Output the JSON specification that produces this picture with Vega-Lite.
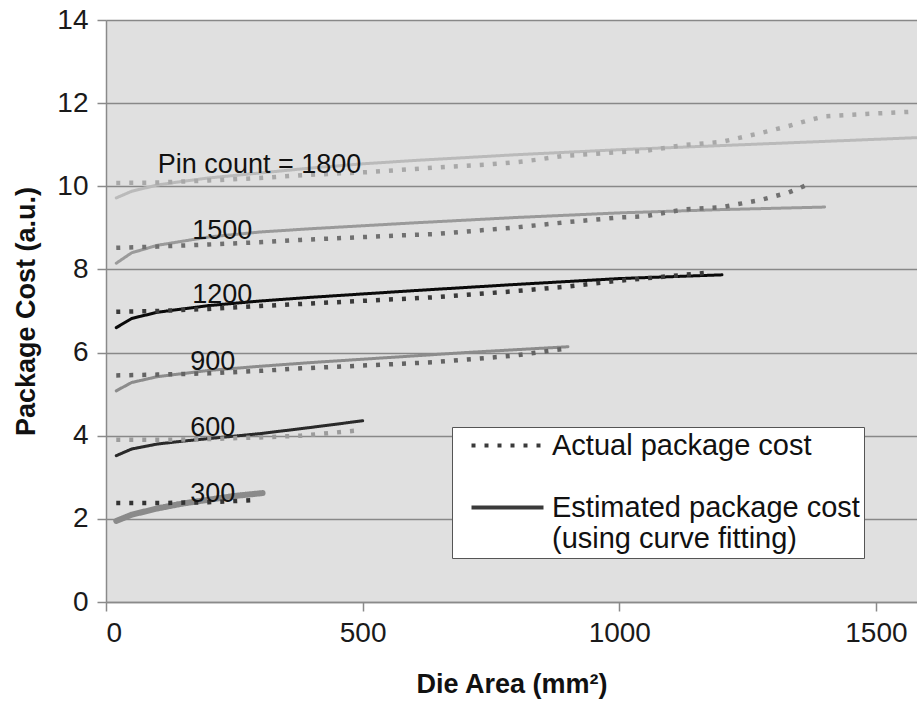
{
  "$schema": "https://vega.github.io/schema/vega-lite/v6.json",
  "width": 811,
  "height": 582,
  "autosize": "none",
  "padding": {"left": 106, "top": 20, "right": 0, "bottom": 100},
  "background": "white",
  "config": {
    "font": "Liberation Sans",
    "view": {"fill": "#e0e0e0", "stroke": null},
    "axis": {
      "labelFont": "Liberation Sans",
      "titleFont": "Liberation Sans",
      "labelColor": "#1a1a1a",
      "titleColor": "#111111",
      "domainColor": "#8a8a8a",
      "domainWidth": 1.5,
      "tickColor": "#8a8a8a",
      "tickWidth": 1.5,
      "tickSize": 9,
      "labelFontSize": 28,
      "titleFontSize": 27,
      "titleFontWeight": "bold"
    },
    "legend": {
      "labelFont": "Liberation Sans"
    }
  },
  "data": {
    "values": [
      {"series": "A1800", "kind": "Actual package cost", "area": 20, "cost": 10.08},
      {"series": "A1800", "kind": "Actual package cost", "area": 100, "cost": 10.09},
      {"series": "A1800", "kind": "Actual package cost", "area": 200, "cost": 10.14},
      {"series": "A1800", "kind": "Actual package cost", "area": 300, "cost": 10.2},
      {"series": "A1800", "kind": "Actual package cost", "area": 385, "cost": 10.27},
      {"series": "A1800", "kind": "Actual package cost", "area": 510, "cost": 10.34},
      {"series": "A1800", "kind": "Actual package cost", "area": 640, "cost": 10.45},
      {"series": "A1800", "kind": "Actual package cost", "area": 740, "cost": 10.52},
      {"series": "A1800", "kind": "Actual package cost", "area": 800, "cost": 10.58},
      {"series": "A1800", "kind": "Actual package cost", "area": 840, "cost": 10.64},
      {"series": "A1800", "kind": "Actual package cost", "area": 890, "cost": 10.73},
      {"series": "A1800", "kind": "Actual package cost", "area": 1000, "cost": 10.82},
      {"series": "A1800", "kind": "Actual package cost", "area": 1050, "cost": 10.85},
      {"series": "A1800", "kind": "Actual package cost", "area": 1125, "cost": 10.99},
      {"series": "A1800", "kind": "Actual package cost", "area": 1200, "cost": 11.07},
      {"series": "A1800", "kind": "Actual package cost", "area": 1275, "cost": 11.28},
      {"series": "A1800", "kind": "Actual package cost", "area": 1330, "cost": 11.45},
      {"series": "A1800", "kind": "Actual package cost", "area": 1372, "cost": 11.6},
      {"series": "A1800", "kind": "Actual package cost", "area": 1400, "cost": 11.68},
      {"series": "A1800", "kind": "Actual package cost", "area": 1480, "cost": 11.74},
      {"series": "A1800", "kind": "Actual package cost", "area": 1580, "cost": 11.8},

      {"series": "E1800", "kind": "Estimated package cost", "area": 20, "cost": 9.72},
      {"series": "E1800", "kind": "Estimated package cost", "area": 50, "cost": 9.88},
      {"series": "E1800", "kind": "Estimated package cost", "area": 100, "cost": 10.03},
      {"series": "E1800", "kind": "Estimated package cost", "area": 150, "cost": 10.12},
      {"series": "E1800", "kind": "Estimated package cost", "area": 200, "cost": 10.2},
      {"series": "E1800", "kind": "Estimated package cost", "area": 300, "cost": 10.32},
      {"series": "E1800", "kind": "Estimated package cost", "area": 400, "cost": 10.44},
      {"series": "E1800", "kind": "Estimated package cost", "area": 500, "cost": 10.54},
      {"series": "E1800", "kind": "Estimated package cost", "area": 600, "cost": 10.62},
      {"series": "E1800", "kind": "Estimated package cost", "area": 800, "cost": 10.76},
      {"series": "E1800", "kind": "Estimated package cost", "area": 1000, "cost": 10.88},
      {"series": "E1800", "kind": "Estimated package cost", "area": 1200, "cost": 10.98},
      {"series": "E1800", "kind": "Estimated package cost", "area": 1400, "cost": 11.08},
      {"series": "E1800", "kind": "Estimated package cost", "area": 1580, "cost": 11.17},

      {"series": "A1500", "kind": "Actual package cost", "area": 20, "cost": 8.52},
      {"series": "A1500", "kind": "Actual package cost", "area": 100, "cost": 8.55},
      {"series": "A1500", "kind": "Actual package cost", "area": 200, "cost": 8.6},
      {"series": "A1500", "kind": "Actual package cost", "area": 310, "cost": 8.66},
      {"series": "A1500", "kind": "Actual package cost", "area": 380, "cost": 8.71},
      {"series": "A1500", "kind": "Actual package cost", "area": 575, "cost": 8.82},
      {"series": "A1500", "kind": "Actual package cost", "area": 640, "cost": 8.85},
      {"series": "A1500", "kind": "Actual package cost", "area": 790, "cost": 9.0},
      {"series": "A1500", "kind": "Actual package cost", "area": 900, "cost": 9.14},
      {"series": "A1500", "kind": "Actual package cost", "area": 1000, "cost": 9.25},
      {"series": "A1500", "kind": "Actual package cost", "area": 1050, "cost": 9.28},
      {"series": "A1500", "kind": "Actual package cost", "area": 1125, "cost": 9.44},
      {"series": "A1500", "kind": "Actual package cost", "area": 1200, "cost": 9.5},
      {"series": "A1500", "kind": "Actual package cost", "area": 1275, "cost": 9.67},
      {"series": "A1500", "kind": "Actual package cost", "area": 1330, "cost": 9.85},
      {"series": "A1500", "kind": "Actual package cost", "area": 1375, "cost": 10.08},

      {"series": "E1500", "kind": "Estimated package cost", "area": 20, "cost": 8.15},
      {"series": "E1500", "kind": "Estimated package cost", "area": 50, "cost": 8.4},
      {"series": "E1500", "kind": "Estimated package cost", "area": 100, "cost": 8.58},
      {"series": "E1500", "kind": "Estimated package cost", "area": 200, "cost": 8.78},
      {"series": "E1500", "kind": "Estimated package cost", "area": 300, "cost": 8.9},
      {"series": "E1500", "kind": "Estimated package cost", "area": 400, "cost": 8.98},
      {"series": "E1500", "kind": "Estimated package cost", "area": 500, "cost": 9.05},
      {"series": "E1500", "kind": "Estimated package cost", "area": 600, "cost": 9.12},
      {"series": "E1500", "kind": "Estimated package cost", "area": 800, "cost": 9.25},
      {"series": "E1500", "kind": "Estimated package cost", "area": 1000, "cost": 9.36},
      {"series": "E1500", "kind": "Estimated package cost", "area": 1200, "cost": 9.44},
      {"series": "E1500", "kind": "Estimated package cost", "area": 1400, "cost": 9.5},

      {"series": "A1200", "kind": "Actual package cost", "area": 20, "cost": 6.98},
      {"series": "A1200", "kind": "Actual package cost", "area": 100, "cost": 7.0},
      {"series": "A1200", "kind": "Actual package cost", "area": 200, "cost": 7.05},
      {"series": "A1200", "kind": "Actual package cost", "area": 300, "cost": 7.12},
      {"series": "A1200", "kind": "Actual package cost", "area": 380, "cost": 7.17},
      {"series": "A1200", "kind": "Actual package cost", "area": 575, "cost": 7.29},
      {"series": "A1200", "kind": "Actual package cost", "area": 640, "cost": 7.33},
      {"series": "A1200", "kind": "Actual package cost", "area": 790, "cost": 7.47},
      {"series": "A1200", "kind": "Actual package cost", "area": 900, "cost": 7.59},
      {"series": "A1200", "kind": "Actual package cost", "area": 1000, "cost": 7.73},
      {"series": "A1200", "kind": "Actual package cost", "area": 1100, "cost": 7.84},
      {"series": "A1200", "kind": "Actual package cost", "area": 1180, "cost": 7.93},

      {"series": "E1200", "kind": "Estimated package cost", "area": 20, "cost": 6.6},
      {"series": "E1200", "kind": "Estimated package cost", "area": 50, "cost": 6.82},
      {"series": "E1200", "kind": "Estimated package cost", "area": 100, "cost": 6.97},
      {"series": "E1200", "kind": "Estimated package cost", "area": 200, "cost": 7.13},
      {"series": "E1200", "kind": "Estimated package cost", "area": 300, "cost": 7.24},
      {"series": "E1200", "kind": "Estimated package cost", "area": 400, "cost": 7.33},
      {"series": "E1200", "kind": "Estimated package cost", "area": 500, "cost": 7.41},
      {"series": "E1200", "kind": "Estimated package cost", "area": 600, "cost": 7.49},
      {"series": "E1200", "kind": "Estimated package cost", "area": 800, "cost": 7.64},
      {"series": "E1200", "kind": "Estimated package cost", "area": 1000, "cost": 7.78},
      {"series": "E1200", "kind": "Estimated package cost", "area": 1200, "cost": 7.87},

      {"series": "A900", "kind": "Actual package cost", "area": 20, "cost": 5.45},
      {"series": "A900", "kind": "Actual package cost", "area": 100, "cost": 5.47},
      {"series": "A900", "kind": "Actual package cost", "area": 200, "cost": 5.5},
      {"series": "A900", "kind": "Actual package cost", "area": 300, "cost": 5.56},
      {"series": "A900", "kind": "Actual package cost", "area": 380, "cost": 5.62},
      {"series": "A900", "kind": "Actual package cost", "area": 575, "cost": 5.73},
      {"series": "A900", "kind": "Actual package cost", "area": 640, "cost": 5.77},
      {"series": "A900", "kind": "Actual package cost", "area": 790, "cost": 5.92},
      {"series": "A900", "kind": "Actual package cost", "area": 900, "cost": 6.1},

      {"series": "E900", "kind": "Estimated package cost", "area": 20, "cost": 5.08},
      {"series": "E900", "kind": "Estimated package cost", "area": 50, "cost": 5.28},
      {"series": "E900", "kind": "Estimated package cost", "area": 100, "cost": 5.42},
      {"series": "E900", "kind": "Estimated package cost", "area": 200, "cost": 5.57},
      {"series": "E900", "kind": "Estimated package cost", "area": 300, "cost": 5.67},
      {"series": "E900", "kind": "Estimated package cost", "area": 400, "cost": 5.76},
      {"series": "E900", "kind": "Estimated package cost", "area": 500, "cost": 5.84},
      {"series": "E900", "kind": "Estimated package cost", "area": 600, "cost": 5.92},
      {"series": "E900", "kind": "Estimated package cost", "area": 700, "cost": 6.0},
      {"series": "E900", "kind": "Estimated package cost", "area": 800, "cost": 6.07},
      {"series": "E900", "kind": "Estimated package cost", "area": 900, "cost": 6.14},

      {"series": "A600", "kind": "Actual package cost", "area": 20, "cost": 3.9},
      {"series": "A600", "kind": "Actual package cost", "area": 100, "cost": 3.9},
      {"series": "A600", "kind": "Actual package cost", "area": 200, "cost": 3.92},
      {"series": "A600", "kind": "Actual package cost", "area": 300, "cost": 3.96},
      {"series": "A600", "kind": "Actual package cost", "area": 380, "cost": 4.0},
      {"series": "A600", "kind": "Actual package cost", "area": 485, "cost": 4.12},

      {"series": "E600", "kind": "Estimated package cost", "area": 20, "cost": 3.52},
      {"series": "E600", "kind": "Estimated package cost", "area": 50, "cost": 3.68},
      {"series": "E600", "kind": "Estimated package cost", "area": 100, "cost": 3.8},
      {"series": "E600", "kind": "Estimated package cost", "area": 150, "cost": 3.87},
      {"series": "E600", "kind": "Estimated package cost", "area": 200, "cost": 3.93},
      {"series": "E600", "kind": "Estimated package cost", "area": 300, "cost": 4.05},
      {"series": "E600", "kind": "Estimated package cost", "area": 400, "cost": 4.2},
      {"series": "E600", "kind": "Estimated package cost", "area": 500, "cost": 4.36},

      {"series": "A300", "kind": "Actual package cost", "area": 20, "cost": 2.38},
      {"series": "A300", "kind": "Actual package cost", "area": 100, "cost": 2.38},
      {"series": "A300", "kind": "Actual package cost", "area": 200, "cost": 2.4},
      {"series": "A300", "kind": "Actual package cost", "area": 290, "cost": 2.45},

      {"series": "E300", "kind": "Estimated package cost", "area": 20, "cost": 1.95},
      {"series": "E300", "kind": "Estimated package cost", "area": 50, "cost": 2.1},
      {"series": "E300", "kind": "Estimated package cost", "area": 100, "cost": 2.25},
      {"series": "E300", "kind": "Estimated package cost", "area": 150, "cost": 2.37},
      {"series": "E300", "kind": "Estimated package cost", "area": 200, "cost": 2.46},
      {"series": "E300", "kind": "Estimated package cost", "area": 250, "cost": 2.55},
      {"series": "E300", "kind": "Estimated package cost", "area": 305, "cost": 2.62}
    ]
  },
  "encoding": {
    "x": {
      "field": "area",
      "type": "quantitative",
      "scale": {"domain": [0, 1580], "nice": false},
      "axis": {
        "values": [0, 500, 1000, 1500],
        "format": "d",
        "grid": false,
        "labelPadding": 8,
        "title": "Die Area (mm²)",
        "titlePadding": 24
      }
    },
    "y": {
      "field": "cost",
      "type": "quantitative",
      "scale": {"domain": [0, 14], "nice": false},
      "axis": {
        "values": [0, 2, 4, 6, 8, 10, 12, 14],
        "grid": true,
        "gridColor": "#888888",
        "gridWidth": 1.5,
        "labelPadding": 9,
        "title": "Package Cost (a.u.)",
        "titlePadding": 16
      }
    }
  },
  "layer": [
    {
      "transform": [{"filter": "datum.kind == 'Estimated package cost' && datum.series != 'E300'"}],
      "mark": {"type": "line", "strokeWidth": 3, "strokeCap": "round", "clip": true},
      "encoding": {
        "color": {
          "field": "series",
          "type": "nominal",
          "scale": {
            "domain": ["A1800", "E1800", "A1500", "E1500", "A1200", "E1200", "A900", "E900", "A600", "E600", "A300", "E300"],
            "range": ["#a8a8a8", "#bababa", "#707070", "#9a9a9a", "#3a3a3a", "#0a0a0a", "#636363", "#8c8c8c", "#9c9c9c", "#2a2a2a", "#333333", "#8a8a8a"]
          },
          "legend": null
        },
        "strokeDash": {
          "field": "kind",
          "type": "nominal",
          "scale": {
            "domain": ["Actual package cost", "Estimated package cost"],
            "range": [[4, 9], [1, 0]]
          },
          "legend": {
            "title": null,
            "orient": "none",
            "legendX": 346,
            "legendY": 407,
            "fillColor": "white",
            "strokeColor": "#555555",
            "padding": 4,
            "symbolType": "M-3,0H3",
            "symbolSize": 576,
            "symbolStrokeWidth": 4,
            "symbolStrokeColor": "#3a3a3a",
            "symbolOffset": 37,
            "labelFontSize": 29,
            "labelColor": "#111111",
            "labelLimit": 500,
            "labelOffset": 30,
            "rowPadding": 32,
            "labelExpr": "datum.label == 'Estimated package cost' ? ['Estimated package cost', '(using curve fitting)'] : datum.label"
          }
        }
      }
    },
    {
      "transform": [{"filter": "datum.series == 'E300'"}],
      "mark": {"type": "line", "strokeWidth": 6, "strokeCap": "round", "clip": true},
      "encoding": {
        "color": {"field": "series", "type": "nominal", "legend": null},
        "strokeDash": {"field": "kind", "type": "nominal"}
      }
    },
    {
      "transform": [{"filter": "datum.kind == 'Actual package cost'"}],
      "mark": {"type": "line", "strokeWidth": 4.5, "strokeCap": "butt", "clip": true},
      "encoding": {
        "color": {"field": "series", "type": "nominal", "legend": null},
        "strokeDash": {"field": "kind", "type": "nominal"}
      }
    },
    {
      "data": {
        "values": [
          {"label": "Pin count = 1800", "area": 101, "cost": 10.32},
          {"label": "1500", "area": 168, "cost": 8.74},
          {"label": "1200", "area": 168, "cost": 7.2},
          {"label": "900", "area": 164, "cost": 5.58},
          {"label": "600", "area": 164, "cost": 4.0},
          {"label": "300", "area": 164, "cost": 2.41}
        ]
      },
      "mark": {"type": "text", "align": "left", "baseline": "alphabetic", "fontSize": 27, "color": "#111111", "font": "Liberation Sans"},
      "encoding": {
        "text": {"field": "label", "type": "nominal"}
      }
    }
  ]
}
